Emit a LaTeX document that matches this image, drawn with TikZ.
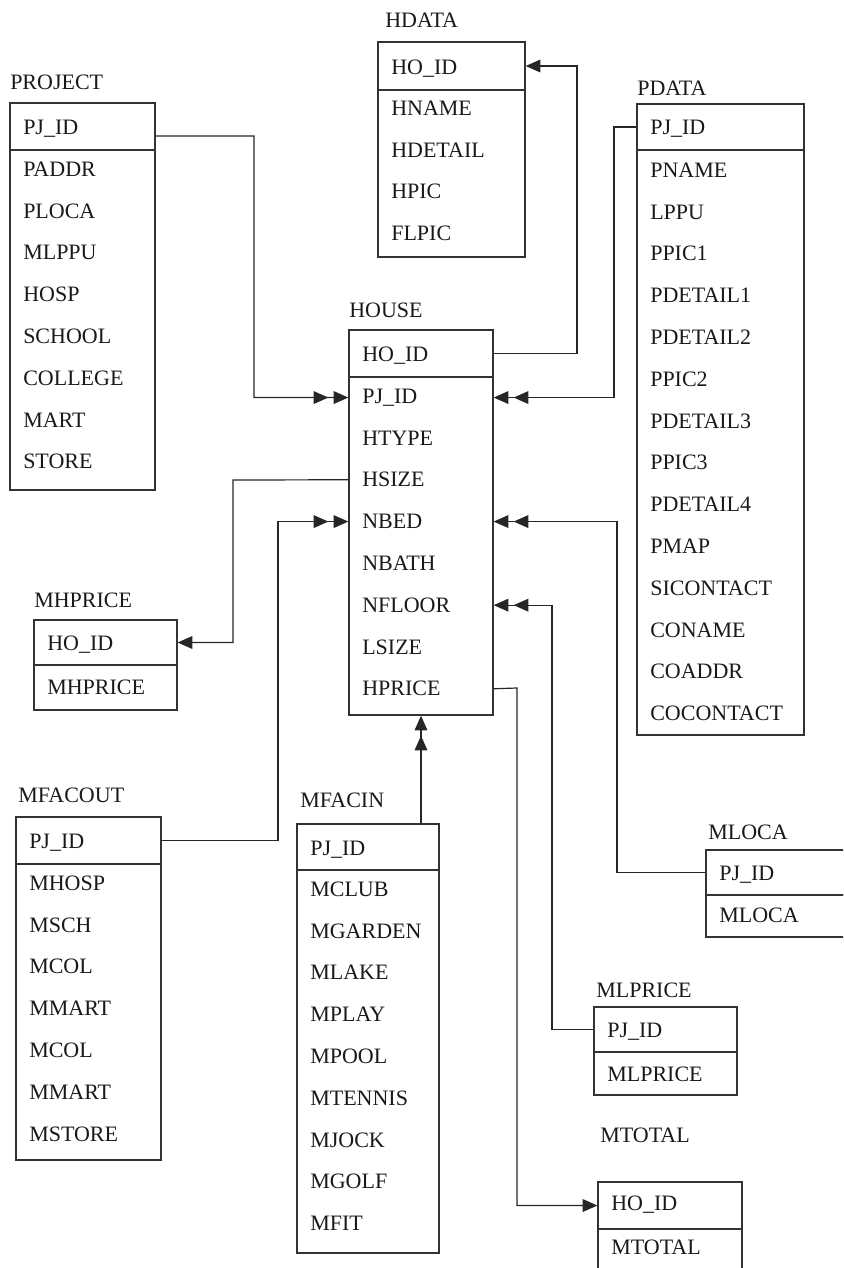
\documentclass[tikz,border=0pt]{standalone}
\usepackage{fontspec}
\setmainfont{Liberation Serif}
\usetikzlibrary{arrows.meta,fit}
\tikzset{
  line/.style={draw=black!85, line width=0.9pt},
  box/.style={draw=black!80, line width=1pt, inner sep=0pt},
  rowtxt/.style={anchor=base west, inner sep=0pt, yshift=-5.5pt, text=black!90, font=\fontsize{16.5}{18}\selectfont},
  tri/.style={Triangle[length=11pt,width=9.5pt,#1]},
  dbl/.style={line, -{Triangle[length=11pt,width=9.5pt,sep=4pt]Triangle[length=11pt,width=9.5pt]}},
  sgl/.style={line, -{Triangle[length=11pt,width=9.5pt]}},
}
\newcommand\erdbox[6]{%
  \node[box, fit={(#2,#3)(#5,#4)}] (#1-head) {};
  \node[box, fit={(#2,#4)(#5,#6)}] (#1-body) {};
}
\newcommand\erdrows[4]{%
  \foreach \t/\n [count=\i from 0] in {#4} {\node[rowtxt] (#1-\n) at ({#2+13},{#3+\i*41.8}) {\t};}
}
\begin{document}
\begin{tikzpicture}[x=0.75pt,y=-0.75pt]
\useasboundingbox (0,0) rectangle (843,1268);
\clip (0,0) rectangle (843,1268);

% PROJECT
\node[rowtxt] (project-title) at (10,82) {PROJECT};
\erdbox{project}{10}{103}{150}{155}{490}
\node[rowtxt] (project-pjid) at (23,127) {PJ\_ID};
\erdrows{project}{10}{169}{PADDR/paddr,PLOCA/ploca,MLPPU/mlppu,HOSP/hosp,SCHOOL/school,COLLEGE/college,MART/mart,STORE/store}

% HDATA
\node[rowtxt] (hdata-title) at (385,20) {HDATA};
\erdbox{hdata}{378}{42}{90}{525}{257}
\node[rowtxt] (hdata-hoid) at (391,67) {HO\_ID};
\erdrows{hdata}{378}{108}{HNAME/hname,HDETAIL/hdetail,HPIC/hpic,FLPIC/flpic}

% PDATA
\node[rowtxt] (pdata-title) at (637,88) {PDATA};
\erdbox{pdata}{637}{104}{150}{804}{735}
\node[rowtxt] (pdata-pjid) at (650,127) {PJ\_ID};
\erdrows{pdata}{637}{170}{PNAME/pname,LPPU/lppu,PPIC1/ppica,PDETAIL1/pdeta,PDETAIL2/pdetb,PPIC2/ppicb,PDETAIL3/pdetc,PPIC3/ppicc,PDETAIL4/pdetd,PMAP/pmap,SICONTACT/sicontact,CONAME/coname,COADDR/coaddr,COCONTACT/cocontact}

% HOUSE
\node[rowtxt] (house-title) at (349,310) {HOUSE};
\erdbox{house}{349}{330}{377}{493}{715}
\node[rowtxt] (house-hoid) at (362,354) {HO\_ID};
\erdrows{house}{349}{396}{PJ\_ID/pj,HTYPE/htype,HSIZE/hsize,NBED/nbed,NBATH/nbath,NFLOOR/nfloor,LSIZE/lsize,HPRICE/hprice}

% MHPRICE
\node[rowtxt] (mhprice-title) at (34,600) {MHPRICE};
\erdbox{mhprice}{34}{620}{665}{177}{710}
\node[rowtxt] (mhprice-hoid) at (47,643) {HO\_ID};
\node[rowtxt] (mhprice-price) at (47,687) {MHPRICE};

% MFACOUT
\node[rowtxt] (mfacout-title) at (18,795) {MFACOUT};
\erdbox{mfacout}{16}{817}{864}{161}{1160}
\node[rowtxt] (mfacout-pjid) at (29,841) {PJ\_ID};
\erdrows{mfacout}{16}{883}{MHOSP/mhosp,MSCH/msch,MCOL/mcola,MMART/mmarta,MCOL/mcolb,MMART/mmartb,MSTORE/mstore}

% MFACIN
\node[rowtxt] (mfacin-title) at (300,800) {MFACIN};
\erdbox{mfacin}{297}{824}{870}{439}{1253}
\node[rowtxt] (mfacin-pjid) at (310,848) {PJ\_ID};
\erdrows{mfacin}{297}{889}{MCLUB/mclub,MGARDEN/mgarden,MLAKE/mlake,MPLAY/mplay,MPOOL/mpool,MTENNIS/mtennis,MJOCK/mjock,MGOLF/mgolf,MFIT/mfit}

% MLOCA
\node[rowtxt] (mloca-title) at (708,832) {MLOCA};
\erdbox{mloca}{706}{850}{895}{846}{937}
\node[rowtxt] (mloca-pjid) at (719,873) {PJ\_ID};
\node[rowtxt] (mloca-loca) at (719,915) {MLOCA};

% MLPRICE
\node[rowtxt] (mlprice-title) at (596,990) {MLPRICE};
\erdbox{mlprice}{594}{1007}{1052}{737}{1095}
\node[rowtxt] (mlprice-pjid) at (607,1030) {PJ\_ID};
\node[rowtxt] (mlprice-price) at (607,1074) {MLPRICE};

% MTOTAL
\node[rowtxt] (mtotal-title) at (600,1135) {MTOTAL};
\erdbox{mtotal}{598}{1182}{1229}{742}{1290}
\node[rowtxt] (mtotal-hoid) at (611,1203) {HO\_ID};
\node[rowtxt] (mtotal-total) at (611,1247) {MTOTAL};

% connectors
\draw[dbl] ([yshift=-7.1pt]project-head.east) -- (254,136) |- (house-pj -| house-body.west);
\draw[sgl] (house-head.east) -- (577,353.5) |- (hdata-head.east);
\draw[dbl] (pdata-head.west) -- (614,127) |- (house-pj -| house-body.east);
\draw[sgl] (house-hsize -| house-body.west) -- (233,480) |- (mhprice-head.east);
\draw[dbl] (mfacout-head.east) -- (278,840.5) |- (house-nbed -| house-body.west);
\draw[dbl] (mloca-head.west) -- (617,872.5) |- (house-nbed -| house-body.east);
\draw[dbl] (mlprice-head.west) -- (552,1029.5) |- (house-nfloor -| house-body.east);
\draw[sgl] (house-hprice -| house-body.east) -- (517,688) |- (mtotal-head.west);
\draw[dbl] (mfacin-head.north -| 421,0) -- (house-body.south -| 421,0);
\end{tikzpicture}
\end{document}
